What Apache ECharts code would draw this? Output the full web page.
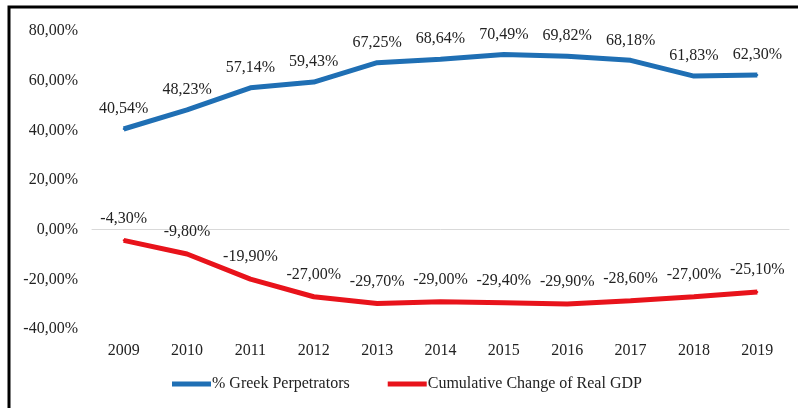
<!DOCTYPE html>
<html>
<head>
<meta charset="utf-8">
<script src="https://cdn.jsdelivr.net/npm/echarts@6/dist/echarts.min.js"></script>
<style>html,body{margin:0;padding:0;background:#fff}#c{width:798px;height:408px}</style>
</head>
<body>
<div id="c"></div>
<script>
const years = ['2009','2010','2011','2012','2013','2014','2015','2016','2017','2018','2019'];
const greekPerpetrators = [40.54, 48.23, 57.14, 59.43, 67.25, 68.64, 70.49, 69.82, 68.18, 61.83, 62.30];
const realGdpChange = [-4.30, -9.80, -19.90, -27.00, -29.70, -29.00, -29.40, -29.90, -28.60, -27.00, -25.10];
const seriesNames = ['% Greek Perpetrators', 'Cumulative Change of Real GDP'];
const yTicks = [-40, -20, 0, 20, 40, 60, 80];

const fmt = v => v.toFixed(2).replace('.', ',') + '%';
const font = '"Liberation Serif", "Times New Roman", serif';

const chart = echarts.init(document.getElementById('c'), null, {renderer: 'canvas'});
chart.setOption({
  backgroundColor: '#fff',
  animation: false,
  textStyle: {fontFamily: font},
  graphic: [{
    type: 'rect',
    shape: {x: 9, y: 7, width: 900, height: 500},
    style: {fill: 'none', stroke: '#000', lineWidth: 3},
    silent: true
  }],
  grid: {left: 92, right: 9, top: 31, bottom: 79},
  legend: {
    left: 172, top: 376, padding: 0,
    itemWidth: 39, itemHeight: 5, itemGap: 38,
    icon: 'rect',
    textStyle: {fontFamily: font, fontSize: 16, color: '#222', padding: [0, 0, 0, -4]},
    data: seriesNames
  },
  xAxis: {
    type: 'category',
    data: years,
    boundaryGap: true,
    axisLine: {onZero: true, lineStyle: {color: '#d9d9d9', width: 1}},
    axisTick: {show: false},
    axisLabel: {fontFamily: font, fontSize: 16, color: '#222', margin: 14, interval: 0}
  },
  yAxis: {
    type: 'value',
    min: yTicks[0], max: yTicks[yTicks.length - 1], interval: 20,
    splitLine: {show: false},
    axisLine: {show: false},
    axisTick: {show: false},
    axisLabel: {fontFamily: font, fontSize: 16, color: '#222', margin: 14, formatter: v => fmt(v)}
  },
  series: [
    {
      name: seriesNames[0], type: 'line', data: greekPerpetrators,
      symbol: 'circle', symbolSize: 2, showSymbol: true, color: '#1f6fb4',
      itemStyle: {color: '#1f6fb4'},
      lineStyle: {width: 5, color: '#1f6fb4'},
      label: {show: true, position: 'top', distance: 11, fontFamily: font, fontSize: 16, color: '#222', formatter: p => fmt(p.value)}
    },
    {
      name: seriesNames[1], type: 'line', data: realGdpChange,
      symbol: 'circle', symbolSize: 2, showSymbol: true, color: '#e8131b',
      itemStyle: {color: '#e8131b'},
      lineStyle: {width: 5, color: '#e8131b'},
      label: {show: true, position: 'top', distance: 13, fontFamily: font, fontSize: 16, color: '#222', formatter: p => fmt(p.value)}
    }
  ]
});
</script>
</body>
</html>
